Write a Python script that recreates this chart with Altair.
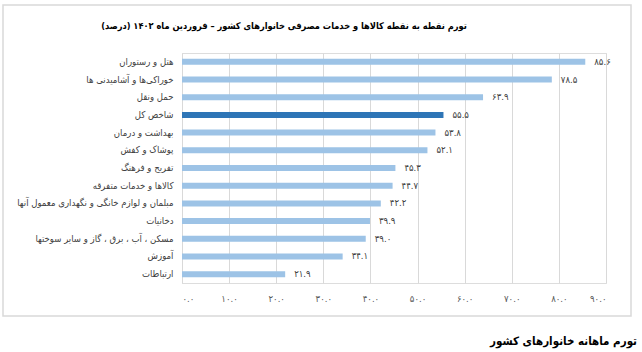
import altair as alt
import pandas as pd

categories = [
    "هتل و رستوران",
    "خوراکی‌ها و آشامیدنی ها",
    "حمل ونقل",
    "شاخص کل",
    "بهداشت و درمان",
    "پوشاک و کفش",
    "تفریح و فرهنگ",
    "کالاها و خدمات متفرقه",
    "مبلمان و لوازم خانگی و نگهداری معمول آنها",
    "دخانیات",
    "مسکن ، آب ، برق ، گاز و سایر سوختها",
    "آموزش",
    "ارتباطات",
]
values = [85.6, 78.5, 63.9, 55.5, 53.8, 52.1, 45.3, 44.7, 42.2, 39.9, 39.0, 34.1, 21.9]
highlight = "شاخص کل"

title_text = "\u200fتورم نقطه به نقطه کالاها و خدمات مصرفی خانوارهای کشور – فروردین ماه ۱۴۰۲ (درصد)\u200f"
footer_text = "تورم ماهانه خانوارهای کشور"

FA = str.maketrans("0123456789", "۰۱۲۳۴۵۶۷۸۹")
df = pd.DataFrame({
    "category": categories,
    "value": values,
    "label": [f"{v:.1f}".translate(FA) for v in values],
})

FONT = "DejaVu Sans Condensed, DejaVu Sans"
LIGHT = "#9DC3E6"
DARK = "#2E75B6"

digit_expr = "format(datum.value, '.1f')"
for d, p in zip("0123456789", "۰۱۲۳۴۵۶۷۸۹"):
    digit_expr = f"replace({digit_expr}, regexp('{d}', 'g'), '{p}')"

base = alt.Chart(df)

bars = base.mark_bar(size=6).encode(
    x=alt.X("value:Q", scale=alt.Scale(domain=[0, 90]),
            axis=alt.Axis(values=list(range(0, 100, 10)), labelExpr=digit_expr,
                          title=None, domain=False, ticks=False, grid=True,
                          gridColor="#d9d9d9", labelColor="#595959",
                          labelFontSize=9.5, labelPadding=10, labelFont=FONT)),
    y=alt.Y("category:N", sort=None,
            axis=alt.Axis(title=None, ticks=False, domain=True, domainColor="#d9d9d9",
                          labelColor="#404040", labelFontSize=9.5, labelPadding=9,
                          labelFont=FONT, labelLimit=400)),
    color=alt.condition(alt.datum.category == highlight, alt.value(DARK), alt.value(LIGHT)),
)

labels = base.mark_text(align="left", baseline="middle", dx=9, fontSize=9.5,
                        font=FONT, color="#404040").encode(
    x="value:Q", y=alt.Y("category:N", sort=None), text="label:N")

frame = alt.Chart(alt.Data(values=[{}])).mark_rect(
    fill=None, stroke="#d9d9d9", strokeWidth=1.5).encode(
    x=alt.value(-179), x2=alt.value(449), y=alt.value(-48), y2=alt.value(263))

title = alt.Chart(alt.Data(values=[{"t": title_text}])).mark_text(
    align="center", baseline="middle", fontSize=9.2, fontWeight="bold",
    font=FONT, color="#000000").encode(
    x=alt.value(102), y=alt.value(-27), text="t:N")

footer = alt.Chart(alt.Data(values=[{"t": footer_text}])).mark_text(
    align="right", baseline="middle", fontSize=11.5, fontWeight="bold",
    font=FONT, color="#000000").encode(
    x=alt.value(455), y=alt.value(289), text="t:N")

chart = alt.layer(frame, bars, labels, title, footer).properties(
    width=424, height=230,
    autosize=alt.AutoSizeParams(type="none"),
    padding={"left": 182, "top": 53, "right": 36, "bottom": 69},
).configure_view(stroke=None).configure(background="white")

chart.save("out.html", embed_options={"renderer": "svg", "actions": False})
